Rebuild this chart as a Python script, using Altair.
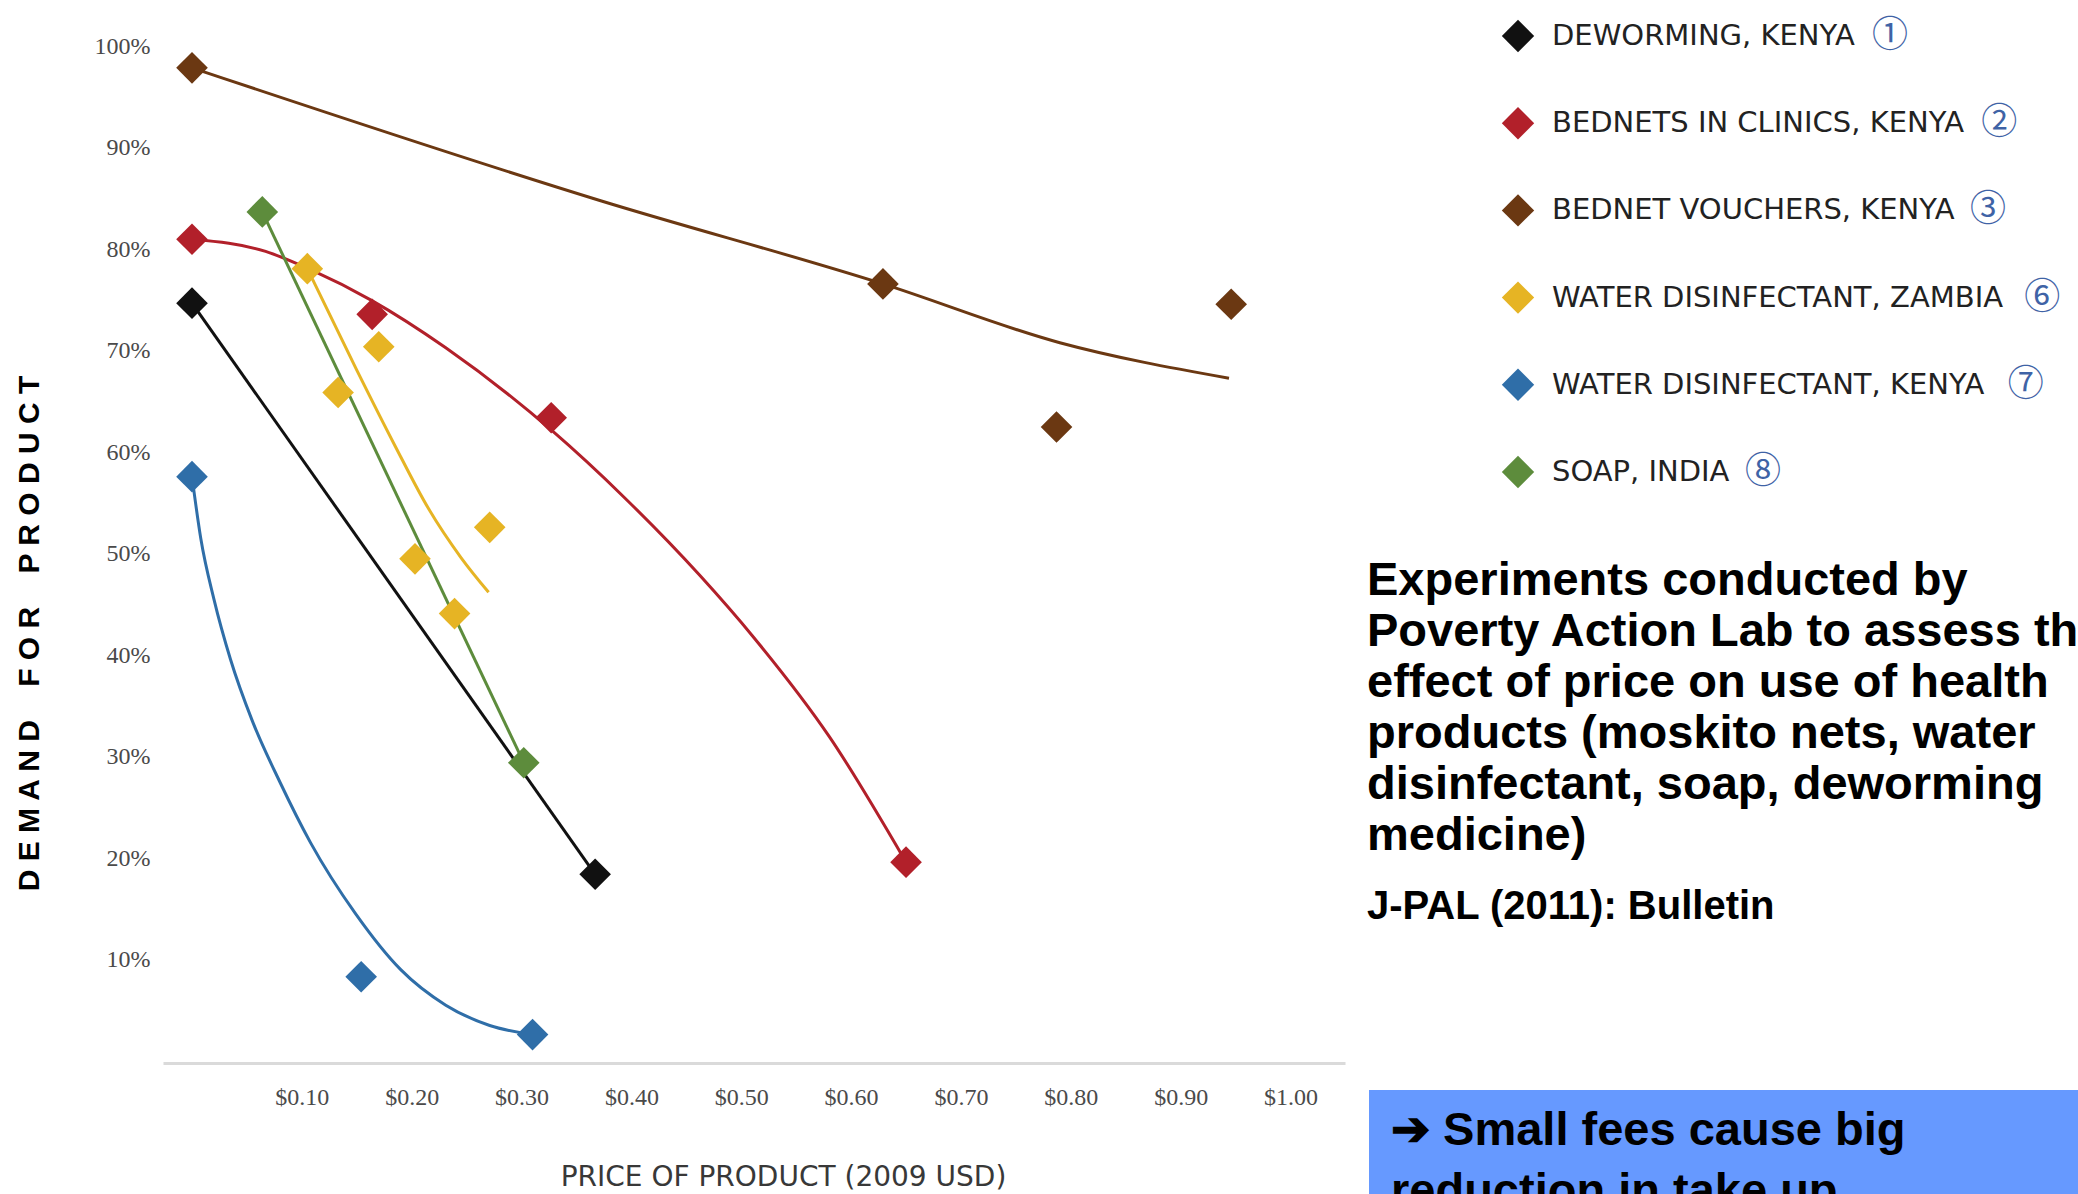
import altair as alt
import pandas as pd

# ---- series (legend order) ----
SERIES = [
    "DEWORMING, KENYA",
    "BEDNETS IN CLINICS, KENYA",
    "BEDNET VOUCHERS, KENYA",
    "WATER DISINFECTANT, ZAMBIA",
    "WATER DISINFECTANT, KENYA",
    "SOAP, INDIA",
]
STUDY_NUMBERS = ["①", "②", "③", "⑥", "⑦", "⑧"]
COLORS = ["#111111", "#B2202A", "#6B3812", "#E6B424", "#2F6EA8", "#5D8C3C"]

# ---- observed demand (price in USD, demand in %) ----
deworm_price = [0.0, 0.367]
deworm_demand = [74.7, 18.4]
clinic_price = [0.0, 0.164, 0.327, 0.650]
clinic_demand = [81.0, 73.6, 63.4, 19.6]
voucher_price = [0.0, 0.629, 0.787, 0.946]
voucher_demand = [97.9, 76.6, 62.5, 74.6]
zambia_price = [0.105, 0.133, 0.170, 0.203, 0.239, 0.271]
zambia_demand = [78.1, 65.9, 70.4, 49.5, 44.1, 52.6]
kenya_water_price = [0.0, 0.154, 0.310]
kenya_water_demand = [57.6, 8.3, 2.6]
soap_price = [0.064, 0.302]
soap_demand = [83.7, 29.4]

# ---- demand curves drawn through each study ----
deworm_curve_price = [0.0, 0.367]
deworm_curve_demand = [74.7, 18.4]
clinic_curve_price = [0.0, 0.067, 0.108, 0.163, 0.231, 0.327, 0.394, 0.462, 0.511, 0.58, 0.65]
clinic_curve_demand = [81.0, 79.8, 78.0, 75.0, 70.3, 62.2, 55.5, 47.9, 41.8, 32.0, 19.6]
voucher_curve_price = [0.0, 0.372, 0.629, 0.79, 0.944]
voucher_curve_demand = [97.9, 84.8, 76.6, 70.8, 67.3]
zambia_curve_price = [0.105, 0.15, 0.185, 0.215, 0.245, 0.27]
zambia_curve_demand = [78.1, 68.1, 60.6, 54.5, 49.6, 46.2]
kenya_water_curve_price = [0.0, 0.008, 0.02, 0.035, 0.055, 0.08, 0.108, 0.149, 0.190, 0.231, 0.271, 0.310]
kenya_water_curve_demand = [57.6, 51.5, 45.5, 39.6, 33.5, 27.5, 21.5, 14.5, 9.0, 5.5, 3.5, 2.6]
soap_curve_price = [0.064, 0.302]
soap_curve_demand = [83.7, 29.4]

# ---- axis ticks and texts ----
PRICE_TICKS = [0.1, 0.2, 0.3, 0.4, 0.5, 0.6, 0.7, 0.8, 0.9, 1.0]
DEMAND_TICKS = [10, 20, 30, 40, 50, 60, 70, 80, 90, 100]
X_TITLE = "PRICE OF PRODUCT (2009 USD)"
Y_TITLE = " \u00a0\u00a0 ".join(" ".join(w) for w in ["DEMAND", "FOR", "PRODUCT"])
NOTE_LINES = [
    "Experiments conducted  by",
    "Poverty Action Lab to assess the",
    "effect of price on use of health",
    "products (moskito nets, water",
    "disinfectant, soap, deworming",
    "medicine)",
]
SOURCE = "J-PAL (2011): Bulletin"
TAKEAWAY_LINES = ["\u2794 Small fees cause big", "reduction in take up"]

# ---- tables ----
obs = [
    (deworm_price, deworm_demand),
    (clinic_price, clinic_demand),
    (voucher_price, voucher_demand),
    (zambia_price, zambia_demand),
    (kenya_water_price, kenya_water_demand),
    (soap_price, soap_demand),
]
curves = [
    (deworm_curve_price, deworm_curve_demand),
    (clinic_curve_price, clinic_curve_demand),
    (voucher_curve_price, voucher_curve_demand),
    (zambia_curve_price, zambia_curve_demand),
    (kenya_water_curve_price, kenya_water_curve_demand),
    (soap_curve_price, soap_curve_demand),
]


def to_frame(pairs):
    rows = []
    for name, (px, dy) in zip(SERIES, pairs):
        for p, d in zip(px, dy):
            rows.append({"series": name, "price": p, "demand": d})
    return pd.DataFrame(rows)


points_df = to_frame(obs)
curves_df = to_frame(curves)

# layout of the figure (pixels)
PAD_L, PAD_T = 163, 10
PLOT_W, PLOT_H = 1182, 1053
TOTAL_W, TOTAL_H = 2078, 1194

# approximate DejaVu Sans advance widths (em) for placing the study numbers
ADV = {"A": .684, "B": .686, "C": .698, "D": .770, "E": .632, "F": .575, "G": .775,
       "H": .752, "I": .295, "K": .656, "L": .557, "M": .863, "N": .748, "O": .787,
       "P": .603, "R": .695, "S": .635, "T": .611, "V": .684, "W": .989, "Y": .611,
       "Z": .685, ",": .318, " ": .318}
LEG_FONT = 29
LEG_TEXT_X = 1552 - PAD_L
legend_df = pd.DataFrame({"series": SERIES, "number": STUDY_NUMBERS})
legend_df["py"] = [36 + i * 87.2 - PAD_T for i in range(len(SERIES))]
legend_df["tx"] = [LEG_TEXT_X + sum(ADV.get(c, .65) for c in s) * LEG_FONT + 33 for s in SERIES]

color = alt.Color("series:N", scale=alt.Scale(domain=SERIES, range=COLORS), legend=None)

x_enc = alt.X(
    "price:Q",
    scale=alt.Scale(domain=[-0.0264, 1.0496], nice=False, zero=False),
    axis=alt.Axis(
        values=PRICE_TICKS, format="$.2f", title=X_TITLE,
        grid=False, ticks=False, tickSize=0,
        domainColor="#dadada", domainWidth=3,
        labelFont="Liberation Serif", labelFontSize=24, labelColor="#4a4a4a",
        labelPadding=34, labelBaseline="middle", labelFlush=False, labelOverlap=False,
        titleFont="DejaVu Sans", titleFontSize=28, titleFontWeight="normal",
        titleColor="#383838", titleX=620, titleY=114, titleAlign="center",
        titleBaseline="middle",
    ),
)
y_enc = alt.Y(
    "demand:Q",
    scale=alt.Scale(domain=[-0.2, 103.6], nice=False, zero=False),
    axis=alt.Axis(
        values=DEMAND_TICKS, labelExpr="datum.value + '%'", title=Y_TITLE,
        grid=False, ticks=False, tickSize=0, domain=False,
        labelFont="Liberation Serif", labelFontSize=24, labelColor="#4a4a4a",
        labelPadding=13, labelBaseline="middle",
        titleFont="Liberation Sans", titleFontSize=30, titleFontWeight="bold",
        titleColor="#000000", titleAngle=270, titleX=29 - PAD_L, titleY=633 - PAD_T,
        titleAlign="center", titleBaseline="middle",
    ),
)

lines = alt.Chart(curves_df).mark_line(interpolate="monotone", strokeWidth=3).encode(
    x=x_enc, y=y_enc, color=color, detail="series:N", order="price:Q"
)
diamonds = alt.Chart(points_df).mark_point(
    shape="diamond", filled=True, size=1000, opacity=1, strokeWidth=0
).encode(x=x_enc, y=y_enc, color=color)

leg_symbols = alt.Chart(legend_df).mark_point(
    shape="diamond", filled=True, size=1050, opacity=1, strokeWidth=0
).encode(x=alt.value(1518 - PAD_L), y=alt.Y("py:Q", scale=None, axis=None), color=color)
leg_labels = alt.Chart(legend_df).mark_text(
    align="left", baseline="middle", font="DejaVu Sans", fontSize=LEG_FONT, color="#222222"
).encode(x=alt.value(LEG_TEXT_X), y=alt.Y("py:Q", scale=None, axis=None), text="series:N")
leg_numbers = alt.Chart(legend_df).mark_text(
    align="center", baseline="middle", font="Noto Sans CJK JP", fontSize=36, color="#3F63A6"
).encode(x=alt.X("tx:Q", scale=None, axis=None), y=alt.Y("py:Q", scale=None, axis=None),
         text="number:N")

one = pd.DataFrame({"k": [0]})
note = alt.Chart(one).mark_text(
    text=NOTE_LINES, align="left", baseline="alphabetic", lineHeight=51,
    font="Liberation Sans", fontWeight="bold", fontSize=47, color="#000000",
).encode(x=alt.value(1367 - PAD_L), y=alt.value(595 - PAD_T))
source = alt.Chart(one).mark_text(
    text=SOURCE, align="left", baseline="alphabetic",
    font="Liberation Sans", fontWeight="bold", fontSize=40, color="#000000",
).encode(x=alt.value(1367 - PAD_L), y=alt.value(919 - PAD_T))
box = alt.Chart(one).mark_rect(color="#6699FF").encode(
    x=alt.value(1369 - PAD_L), x2=alt.value(TOTAL_W - PAD_L + 5),
    y=alt.value(1090 - PAD_T), y2=alt.value(TOTAL_H - PAD_T + 5),
)
takeaway = alt.Chart(one).mark_text(
    text=TAKEAWAY_LINES, align="left", baseline="alphabetic", lineHeight=61,
    font="Liberation Sans", fontWeight="bold", fontSize=47, color="#000000",
).encode(x=alt.value(1391 - PAD_L), y=alt.value(1145 - PAD_T))

chart = alt.layer(
    lines, diamonds, leg_symbols, leg_labels, leg_numbers, note, source, box, takeaway
).properties(
    width=PLOT_W, height=PLOT_H,
    padding={"left": PAD_L, "top": PAD_T,
             "right": TOTAL_W - PAD_L - PLOT_W, "bottom": TOTAL_H - PAD_T - PLOT_H},
    autosize=alt.AutoSizeParams(type="none"),
    background="white",
).configure_view(strokeWidth=0)

chart.save("out.html", embed_options={"renderer": "svg", "actions": False})
